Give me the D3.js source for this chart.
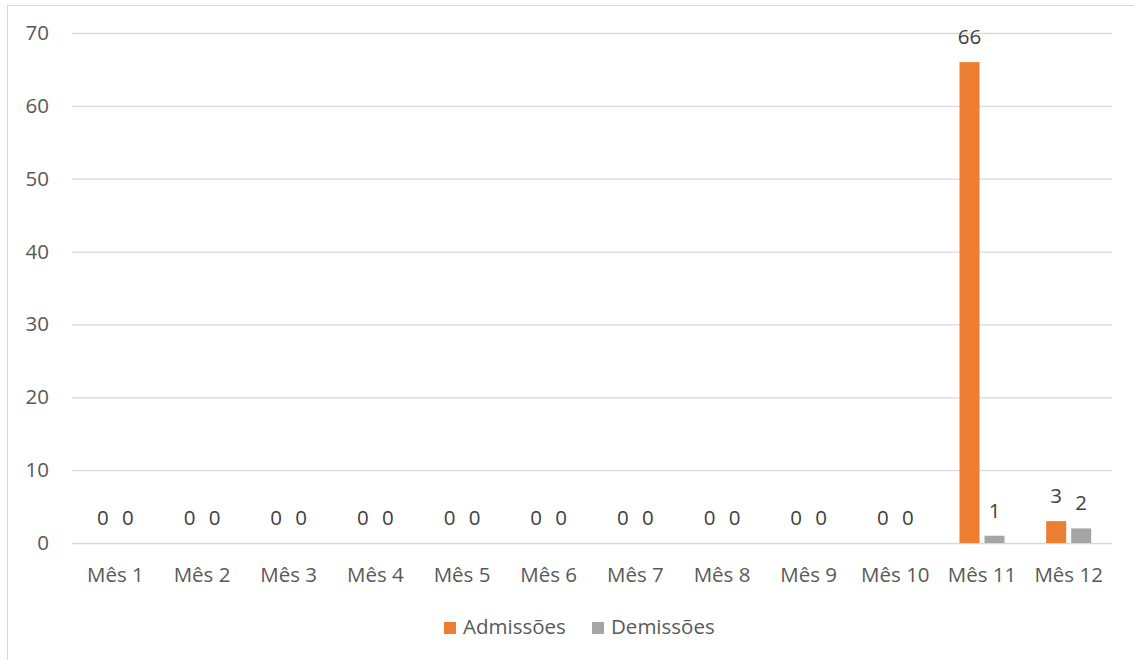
<!DOCTYPE html>
<html>
<head>
<meta charset="utf-8">
<script src="https://cdn.jsdelivr.net/npm/d3@7"></script>
<style>
  html, body { margin: 0; padding: 0; background: #fff; }
  svg { display: block; font-family: "Open Sans", "Noto Sans", sans-serif; }
</style>
</head>
<body>
<svg id="chart" width="1134" height="660"></svg>
<script>
// Monthly hires and dismissals
const months = ["Mês 1", "Mês 2", "Mês 3", "Mês 4", "Mês 5", "Mês 6",
                "Mês 7", "Mês 8", "Mês 9", "Mês 10", "Mês 11", "Mês 12"];
const admissoes = [0, 0, 0, 0, 0, 0, 0, 0, 0, 0, 66, 3];
const demissoes = [0, 0, 0, 0, 0, 0, 0, 0, 0, 0, 1, 2];
const seriesNames = ["Admissões", "Demissões"];
const seriesColors = ["#ED7D31", "#A5A5A5"];
const yTicks = [0, 10, 20, 30, 40, 50, 60, 70];

const svg = d3.select("#chart");
const W = 1134, H = 660;
const plot = { left: 72, right: 1112, top: 33, bottom: 543 };
const textColor = "#595959";
const fontSize = 20.5;

// chart area frame
svg.append("rect")
  .attr("x", 7.5).attr("y", 5.5)
  .attr("width", W + 10).attr("height", H + 10)
  .attr("fill", "#fff").attr("stroke", "#d9d9d9").attr("stroke-width", 1);

const x = d3.scaleBand().domain(months).range([plot.left, plot.right]);
const y = d3.scaleLinear().domain([0, 70]).range([plot.bottom, plot.top]);

const barW = 20, barGap = 5;
const groupW = barW * 2 + barGap;

// horizontal gridlines and value axis labels
const yAxis = d3.axisLeft(y).tickValues(yTicks).tickSize(-(plot.right - plot.left)).tickPadding(23);
const gy = svg.append("g").attr("transform", `translate(${plot.left},0)`).call(yAxis);
gy.select(".domain").remove();
gy.selectAll(".tick line").attr("stroke", "#d9d9d9").attr("stroke-width", 1.3);
gy.selectAll(".tick text")
  .attr("fill", textColor).attr("font-size", fontSize)
  .attr("font-family", "'Open Sans', sans-serif");

// category axis labels
const xAxis = d3.axisBottom(x).tickSize(0).tickPadding(24);
const gx = svg.append("g").attr("transform", `translate(0,${plot.bottom})`).call(xAxis);
gx.select(".domain").remove();
gx.selectAll(".tick text")
  .attr("fill", textColor).attr("font-size", fontSize)
  .attr("font-family", "'Open Sans', sans-serif");

// bars and value labels
const seriesData = [admissoes, demissoes];
seriesData.forEach((vals, si) => {
  const g = svg.append("g");
  const xPos = (i) => x(months[i]) + x.bandwidth() / 2 - groupW / 2 + si * (barW + barGap);
  g.selectAll("rect")
    .data(vals)
    .join("rect")
    .attr("x", (d, i) => xPos(i))
    .attr("y", d => y(d))
    .attr("width", barW)
    .attr("height", d => y(0) - y(d))
    .attr("fill", seriesColors[si]);
  g.selectAll("text")
    .data(vals)
    .join("text")
    .attr("x", (d, i) => xPos(i) + barW / 2)
    .attr("y", d => y(d) - 18)
    .attr("text-anchor", "middle")
    .attr("fill", "#404040")
    .attr("font-size", fontSize)
    .text(d => d);
});

// legend
const legend = svg.append("g").attr("transform", "translate(444,634)");
const legendX = [0, 148];
seriesNames.forEach((name, i) => {
  const item = legend.append("g").attr("transform", `translate(${legendX[i]},0)`);
  item.append("rect").attr("x", 0).attr("y", -12).attr("width", 12).attr("height", 12)
    .attr("fill", seriesColors[i]);
  item.append("text").attr("x", 19).attr("y", 0)
    .attr("fill", textColor).attr("font-size", fontSize).text(name);
});
</script>
</body>
</html>
